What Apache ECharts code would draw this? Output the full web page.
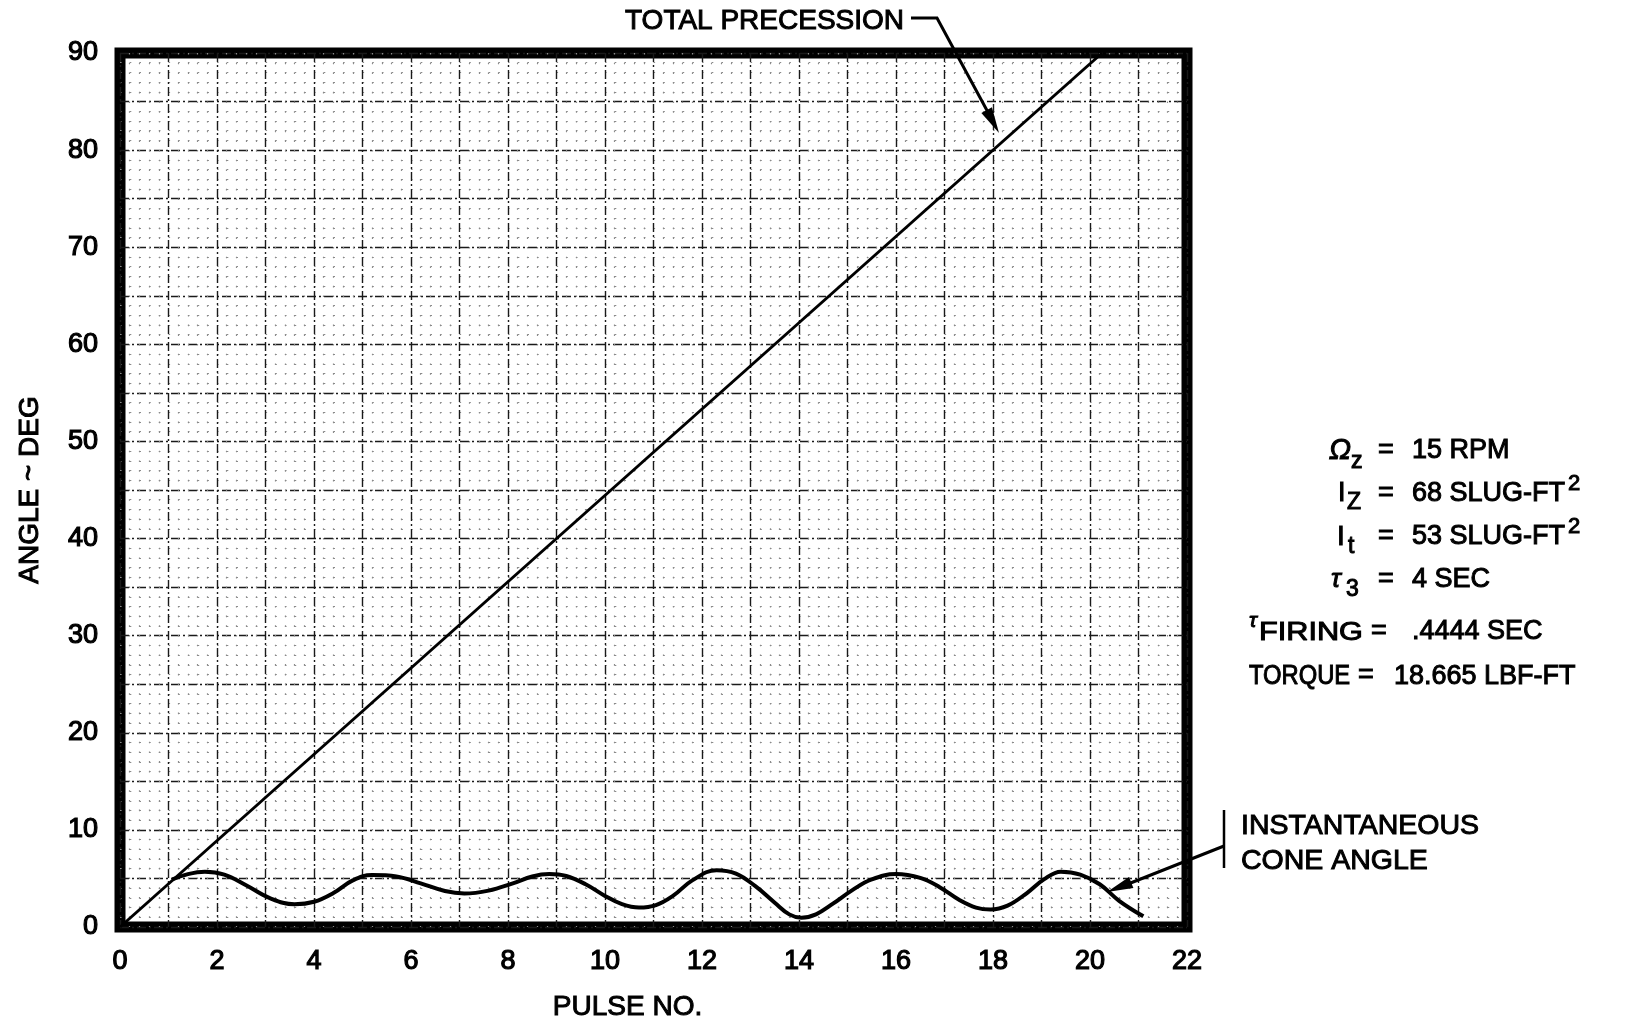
<!DOCTYPE html>
<html>
<head>
<meta charset="utf-8">
<title>Precession</title>
<script src="https://cdn.jsdelivr.net/npm/echarts@6/dist/echarts.min.js"></script>
<style>
  html, body { margin: 0; padding: 0; background: #fff; }
  #main { width: 1625px; height: 1024px; }
</style>
</head>
<body>
<div id="main"></div>
<script>
// total precession (straight line)
var precessionPulse = [0, 20.25];
var precessionAngle = [0, 90];

// instantaneous cone angle
var conePulse = [1.08, 1.4, 1.75, 2.15, 2.6, 3.1, 3.6, 4.0, 4.4, 4.8, 5.2, 5.7, 6.2, 6.7, 7.1, 7.6, 8.1, 8.5, 8.85, 9.2, 9.6, 10.0, 10.35, 10.7, 11.05, 11.4, 11.8, 12.3, 12.7, 13.1, 13.5, 13.8, 14.05, 14.35, 14.7, 15.1, 15.5, 16.0, 16.5, 16.9, 17.3, 17.65, 17.95, 18.3, 18.7, 19.05, 19.4, 19.8, 20.2, 20.6, 21.1];
var coneAngle = [4.9, 5.45, 5.7, 5.4, 4.3, 2.95, 2.35, 2.6, 3.5, 4.8, 5.35, 5.2, 4.5, 3.7, 3.45, 3.75, 4.5, 5.2, 5.45, 5.25, 4.4, 3.2, 2.35, 2.0, 2.25, 3.2, 4.8, 5.85, 5.5, 4.2, 2.5, 1.3, 0.95, 1.3, 2.4, 3.8, 4.9, 5.45, 5.05, 4.1, 2.8, 2.0, 1.8, 2.2, 3.5, 4.9, 5.7, 5.4, 4.4, 2.7, 1.1];

var xLabels = [0, 2, 4, 6, 8, 10, 12, 14, 16, 18, 20, 22];
var yLabels = [0, 10, 20, 30, 40, 50, 60, 70, 80, 90];

var FONT = '"Liberation Sans", Arial, sans-serif';

function pairs(xs, ys) {
    return xs.map(function (x, i) { return [x, ys[i]]; });
}

function txt(x, y, s, size, extra) {
    extra = extra || {};
    var style = {
        text: s,
        x: 0,
        y: 0,
        fill: '#000',
        font: (extra.italic ? 'italic ' : '') + size + 'px ' + FONT,
        textAlign: extra.align || 'left',
        textVerticalAlign: 'middle',
        stroke: '#000',
        lineWidth: 1
    };
    return { type: 'text', x: x, y: y, scaleX: extra.sx || 1, style: style, z: 100 };
}

function arrowHead(tipX, tipY, fromX, fromY, len, half) {
    var dx = tipX - fromX, dy = tipY - fromY;
    var d = Math.sqrt(dx * dx + dy * dy);
    var ux = dx / d, uy = dy / d;
    var bx = tipX - ux * len, by = tipY - uy * len;
    return {
        type: 'polygon',
        shape: { points: [[tipX, tipY], [bx - uy * half, by + ux * half], [bx + uy * half, by - ux * half]] },
        style: { fill: '#000' },
        z: 100
    };
}

var chartDom = document.getElementById('main');
var myChart = echarts.init(chartDom);
var option;

var labelStyle = {
    color: '#000',
    fontSize: 27,
    fontFamily: FONT,
    textBorderColor: '#000',
    textBorderWidth: 1.2
};

var nameStyle = {
    color: '#000',
    fontSize: 28,
    fontFamily: FONT,
    textBorderColor: '#000',
    textBorderWidth: 1
};

var majorLine = { color: '#1a1a1a', width: 1.4, type: [9, 3, 2, 3] };
var minorLine = { color: '#8a8a8a', width: 1.2, type: [1.6, 8.1] };

option = {
    backgroundColor: '#fff',
    animation: false,
    grid: {
        left: 120,
        right: 438,
        top: 53,
        bottom: 97,
        outerBoundsMode: 'none',
        containLabel: false,
        show: true,
        borderColor: '#000',
        borderWidth: 11,
        backgroundColor: 'transparent'
    },
    xAxis: {
        type: 'value',
        min: 0,
        max: 22,
        interval: 1,
        name: 'PULSE NO.',
        nameLocation: 'middle',
        nameGap: 66,
        nameTextStyle: Object.assign({ padding: [0, 52, 0, 0] }, nameStyle),
        axisLine: { show: false },
        axisTick: { show: false },
        minorTick: { show: false, splitNumber: 5 },
        axisLabel: Object.assign({
            margin: 21,
            formatter: function (v) { return xLabels.indexOf(v) >= 0 ? String(v) : ''; }
        }, labelStyle),
        splitLine: { show: true, lineStyle: majorLine },
        minorSplitLine: { show: true, lineStyle: minorLine }
    },
    yAxis: {
        type: 'value',
        min: 0,
        max: 90,
        interval: 5,
        name: 'ANGLE ~ DEG',
        nameLocation: 'middle',
        nameGap: 76,
        nameRotate: 90,
        nameTextStyle: nameStyle,
        axisLine: { show: false },
        axisTick: { show: false },
        minorTick: { show: false, splitNumber: 5 },
        axisLabel: Object.assign({
            margin: 22,
            formatter: function (v) { return yLabels.indexOf(v) >= 0 ? String(v) : ''; }
        }, labelStyle),
        splitLine: { show: true, lineStyle: majorLine },
        minorSplitLine: { show: true, lineStyle: minorLine }
    },
    series: [
        {
            name: 'TOTAL PRECESSION',
            type: 'line',
            data: pairs(precessionPulse, precessionAngle),
            showSymbol: false,
            lineStyle: { color: '#000', width: 3 },
            z: 10
        },
        {
            name: 'INSTANTANEOUS CONE ANGLE',
            type: 'line',
            data: pairs(conePulse, coneAngle),
            smooth: 0.4,
            showSymbol: false,
            lineStyle: { color: '#000', width: 4 },
            z: 10
        }
    ],
    graphic: [
        // total precession callout
        txt(625, 21, 'TOTAL PRECESSION', 28),
        { type: 'polyline', shape: { points: [[911, 18], [937, 18], [990, 116]] }, style: { stroke: '#000', lineWidth: 3, fill: null }, z: 100 },
        arrowHead(999, 133, 937, 18, 26, 6),
        // cone angle callout
        txt(1241, 826, 'INSTANTANEOUS', 28.5),
        txt(1241, 861, 'CONE ANGLE', 28.5),
        { type: 'line', shape: { x1: 1224, y1: 810, x2: 1224, y2: 868 }, style: { stroke: '#000', lineWidth: 2.5 }, z: 100 },
        { type: 'line', shape: { x1: 1224, y1: 846, x2: 1123, y2: 886 }, style: { stroke: '#000', lineWidth: 3 }, z: 100 },
        arrowHead(1107, 892, 1224, 846, 26, 6),
        // parameter block
        txt(1329, 451, 'Ω', 29, { italic: true }),
        txt(1351, 462, 'z', 23),
        txt(1386, 451, '=', 27, { align: 'center' }),
        txt(1412, 451, '15 RPM', 27),

        txt(1338, 494, 'I', 27),
        txt(1347, 503, 'Z', 23),
        txt(1386, 494, '=', 27, { align: 'center' }),
        txt(1412, 494, '68 SLUG-FT', 27),
        txt(1568, 484, '2', 22),

        txt(1337, 537, 'I', 28),
        txt(1348, 547, 't', 23),
        txt(1386, 537, '=', 27, { align: 'center' }),
        txt(1412, 537, '53 SLUG-FT', 27),
        txt(1568, 527, '2', 22),

        txt(1331, 580, 'τ', 26, { italic: true }),
        txt(1346, 590, '3', 23),
        txt(1386, 580, '=', 27, { align: 'center' }),
        txt(1412, 580, '4 SEC', 27),

        txt(1249, 621, 'τ', 21, { italic: true }),
        txt(1259, 633, 'FIRING', 26, { sx: 1.18 }),
        txt(1379, 632, '=', 27, { align: 'center' }),
        txt(1412, 632, '.4444 SEC', 27),

        txt(1249, 677, 'TORQUE', 27, { sx: 0.88 }),
        txt(1366, 676, '=', 27, { align: 'center' }),
        txt(1394, 677, '18.665 LBF-FT', 27)
    ]
};

option && myChart.setOption(option);
</script>
</body>
</html>
